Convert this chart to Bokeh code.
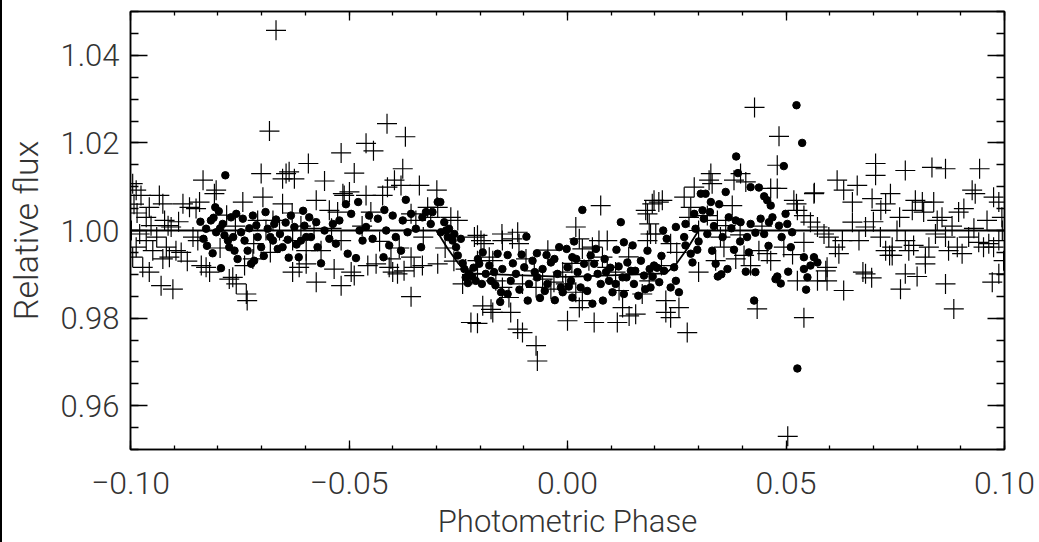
from bokeh.plotting import figure
from bokeh.models import Range1d, LinearAxis, FixedTicker, CustomJSTickFormatter, Div
from bokeh.layouts import row
from bokeh.embed import file_html
from bokeh.resources import INLINE

# ---------------- data ----------------
# crosses: -0.100 .. -0.060
cross_x_a = [-0.0995, -0.0987, -0.0976, -0.0964, -0.0957, -0.0953, -0.0979, -0.0987, -0.0964, -0.0949,
             -0.0995, -0.0972, -0.0957, -0.0934, -0.0926, -0.0922, -0.0914, -0.0907, -0.0896, -0.0884,
             -0.0926, -0.0911, -0.0930, -0.0903, -0.0880, -0.0865, -0.0850, -0.0842, -0.0857, -0.0846,
             -0.0834, -0.0827, -0.0819, -0.0838, -0.0808, -0.0804, -0.0774, -0.0766, -0.0758, -0.0735,
             -0.0739, -0.0743, -0.0701, -0.0697, -0.0709, -0.0652, -0.0637, -0.0625, -0.0652, -0.0629,
             -0.0629, -0.0614, -0.0690, -0.0674, -0.0659, -0.0667, -0.0682, -0.0644, -0.0985, -0.0940,
             -0.0918, -0.0733, -0.0780, -0.0718, -0.0760, -0.0795, -0.0870, -0.0890, -0.0680, -0.0630,
             -0.0610, -0.0720, -0.0998, -0.0992]
cross_y_a = [1.0107, 1.0092, 1.0080, 1.0030, 1.0053, 1.0011, 0.9992, 0.9962, 0.9977, 0.9954,
             0.9939, 0.9916, 0.9905, 1.0080, 1.0061, 1.0023, 1.0011, 1.0008, 0.9954, 0.9950,
             0.9935, 0.9939, 0.9874, 0.9866, 1.0061, 1.0053, 1.0050, 1.0065, 0.9985, 0.9977,
             1.0115, 0.9916, 0.9905, 0.9920, 1.0084, 1.0092, 0.9889, 0.9893, 0.9878, 0.9855,
             0.9920, 1.0065, 1.0130, 1.0076, 1.0023, 1.0118, 1.0134, 1.0118, 1.0061, 0.9977,
             0.9905, 0.9916, 1.0000, 1.0023, 1.0000, 1.0457, 1.0227, 1.0130, 1.0040, 0.9985,
             0.9962, 0.9840, 1.0035, 0.9970, 1.0010, 0.9960, 0.9930, 1.0020, 0.9950, 1.0040,
             1.0010, 0.9935, 1.0000, 1.0060]
# crosses: -0.060 .. -0.030
cross_x_b = [-0.0575, -0.0518, -0.0358, -0.0593, -0.0518, -0.0461, -0.0488, -0.0556, -0.0377, -0.0339,
             -0.0299, -0.0423, -0.0514, -0.0413, -0.0371, -0.0444, -0.0534, -0.0495, -0.0488, -0.0457,
             -0.0438, -0.0408, -0.0400, -0.0389, -0.0374, -0.0351, -0.0332, -0.0297, -0.0404, -0.0358,
             -0.0518, -0.0564, -0.0598, -0.0598, -0.0575, -0.0545, -0.0526, -0.0511, -0.0499, -0.0461,
             -0.0450, -0.0412, -0.0396, -0.0381, -0.0358, -0.0347, -0.0320, -0.0313, -0.0297, -0.0470,
             -0.0540, -0.0430, -0.0385, -0.0330, -0.0580]
cross_y_b = [0.9882, 0.9874, 0.9849, 1.0153, 1.0177, 1.0199, 1.0131, 1.0113, 1.0141, 1.0103,
             1.0092, 1.0080, 1.0084, 1.0244, 1.0214, 1.0182, 0.9912, 0.9905, 0.9897, 0.9920,
             0.9924, 0.9916, 0.9905, 0.9901, 0.9908, 0.9916, 0.9920, 0.9924, 0.9935, 0.9939,
             0.9977, 0.9954, 0.9954, 0.9924, 1.0069, 1.0046, 1.0042, 1.0080, 1.0088, 1.0080,
             1.0042, 1.0099, 1.0115, 1.0103, 1.0038, 1.0023, 1.0053, 1.0030, 1.0053, 1.0010,
             1.0005, 0.9975, 0.9960, 0.9985, 1.0005]
# crosses: -0.030 .. 0.020 (transit)
cross_x_c = [-0.0267, -0.0251, -0.0213, -0.0206, -0.0206, -0.0233, -0.0240, -0.0221, -0.0206, -0.0198,
             -0.0191, -0.0179, -0.0171, -0.0150, -0.0149, -0.0126, -0.0114, -0.0111, -0.0164, -0.0149,
             -0.0134, -0.0194, -0.0171, -0.0114, -0.0103, -0.0072, -0.0069, -0.0076, -0.0057, -0.0031,
             -0.0011, -0.0004, 0.0019, 0.0027, 0.0034, 0.0049, 0.0057, 0.0072, 0.0080, 0.0091,
             0.0091, 0.0110, 0.0118, 0.0126, 0.0141, 0.0156, 0.0171, 0.0187, 0.0183, 0.0187,
             0.0179, 0.0194, 0.0190, 0.0076, 0.0061, 0.0000, 0.0114, 0.0034, 0.0019, 0.0027,
             -0.0038, -0.0072, -0.0103, -0.0206, -0.0175, -0.0130, -0.0095, -0.0045, 0.0010, 0.0140,
             -0.0280, -0.0260]
cross_y_c = [1.0030, 1.0023, 0.9985, 0.9931, 0.9901, 0.9912, 0.9878, 0.9790, 0.9989, 0.9977,
             0.9970, 0.9939, 0.9931, 0.9992, 0.9977, 0.9981, 0.9996, 0.9970, 0.9885, 0.9870,
             0.9847, 0.9828, 0.9813, 0.9775, 0.9767, 0.9737, 0.9702, 0.9908, 0.9889, 0.9882,
             0.9905, 0.9878, 1.0008, 0.9981, 0.9958, 0.9931, 0.9962, 0.9977, 0.9939, 0.9977,
             0.9916, 0.9905, 0.9863, 0.9824, 0.9805, 0.9809, 0.9855, 0.9885, 0.9977, 1.0015,
             1.0046, 1.0061, 0.9992, 1.0057, 0.9790, 0.9794, 0.9790, 0.9840, 0.9859, 0.9824,
             0.9866, 0.9870, 0.9878, 0.9788, 0.9820, 0.9813, 0.9935, 0.9955, 0.9925, 0.9940,
             0.9960, 0.9930]
# crosses: 0.020 .. 0.060
cross_x_d = [0.0428, 0.0484, 0.0480, 0.0328, 0.0324, 0.0331, 0.0396, 0.0381, 0.0408, 0.0465,
             0.0480, 0.0290, 0.0267, 0.0217, 0.0198, 0.0282, 0.0278, 0.0320, 0.0343, 0.0362,
             0.0377, 0.0350, 0.0358, 0.0339, 0.0385, 0.0404, 0.0419, 0.0438, 0.0457, 0.0465,
             0.0495, 0.0518, 0.0526, 0.0541, 0.0564, 0.0556, 0.0572, 0.0587, 0.0541, 0.0572,
             0.0526, 0.0591, 0.0225, 0.0236, 0.0274, 0.0255, 0.0541, 0.0434, 0.0504, 0.0565,
             0.0524, 0.0183, 0.0209, 0.0250, 0.0300, 0.0202, 0.0236, 0.0225, 0.0215, 0.0300,
             0.0445, 0.0395, 0.0515]
cross_y_d = [1.0281, 1.0215, 1.0149, 1.0130, 1.0115, 1.0107, 1.0130, 1.0115, 1.0111, 1.0096,
             1.0096, 1.0099, 1.0076, 1.0069, 1.0069, 1.0053, 1.0030, 1.0034, 1.0023, 1.0011,
             1.0057, 0.9985, 0.9962, 0.9931, 0.9935, 0.9943, 0.9920, 0.9954, 0.9947, 0.9931,
             0.9962, 1.0069, 1.0046, 1.0034, 1.0084, 1.0019, 1.0008, 0.9992, 0.9973, 0.9885,
             0.9885, 0.9908, 0.9840, 0.9801, 0.9767, 0.9824, 0.9801, 0.9821, 0.9530, 1.0086,
             1.0061, 1.0038, 1.0065, 0.9950, 0.9905, 0.9992, 0.9970, 0.9813, 0.9920, 1.0000,
             1.0010, 0.9990, 0.9945]
# crosses: 0.060 .. 0.100
cross_x_e = [0.0705, 0.0705, 0.0773, 0.0834, 0.0865, 0.0943, 0.0617, 0.0663, 0.0632, 0.0652,
             0.0697, 0.0739, 0.0728, 0.0717, 0.0796, 0.0812, 0.0789, 0.0815, 0.0838, 0.0857,
             0.0846, 0.0895, 0.0907, 0.0926, 0.0933, 0.0960, 0.0975, 0.0987, 0.0994, 0.0598,
             0.0613, 0.0629, 0.0652, 0.0667, 0.0682, 0.0716, 0.0728, 0.0743, 0.0754, 0.0773,
             0.0781, 0.0792, 0.0819, 0.0827, 0.0842, 0.0865, 0.0872, 0.0892, 0.0903, 0.0918,
             0.0941, 0.0952, 0.0964, 0.0975, 0.0987, 0.0998, 0.0987, 0.0972, 0.0773, 0.0800,
             0.0819, 0.0682, 0.0696, 0.0632, 0.0762, 0.0884, 0.0865, 0.0594, 0.0594, 0.0621,
             0.0743, 0.0676, 0.0737, 0.0930, 0.0700, 0.0760, 0.0880, 0.0995]
cross_y_e = [1.0153, 1.0126, 1.0137, 1.0144, 1.0141, 1.0141, 1.0115, 1.0103, 1.0092, 1.0065,
             1.0073, 1.0084, 1.0061, 1.0046, 1.0069, 1.0065, 1.0046, 1.0042, 1.0065, 1.0030,
             1.0023, 1.0042, 1.0050, 1.0092, 1.0084, 1.0023, 1.0076, 1.0065, 1.0030, 0.9985,
             0.9962, 0.9977, 1.0019, 0.9977, 1.0008, 0.9985, 0.9954, 0.9943, 1.0000, 0.9977,
             0.9954, 0.9966, 0.9939, 0.9962, 0.9992, 0.9985, 0.9954, 0.9962, 0.9947, 0.9985,
             0.9973, 0.9962, 0.9970, 0.9962, 0.9977, 0.9931, 0.9901, 0.9882, 0.9901, 0.9895,
             0.9924, 0.9901, 0.9892, 0.9863, 0.9866, 0.9821, 0.9878, 0.9916, 0.9885, 0.9947,
             0.9962, 0.9905, 0.9943, 1.0005, 1.0020, 1.0030, 1.0010, 1.0000]

# dots: -0.085 .. -0.060
dot_x_a = [-0.0783, -0.0806, -0.0798, -0.0833, -0.0827, -0.0816, -0.0810, -0.0804, -0.0789, -0.0785,
           -0.0777, -0.0774, -0.0762, -0.0758, -0.0770, -0.0793, -0.0743, -0.0747, -0.0739, -0.0732,
           -0.0720, -0.0717, -0.0724, -0.0709, -0.0701, -0.0691, -0.0686, -0.0674, -0.0671, -0.0663,
           -0.0658, -0.0652, -0.0640, -0.0633, -0.0625, -0.0615, -0.0610, -0.0602, -0.0598, -0.0825,
           -0.0812, -0.0795, -0.0765, -0.0755, -0.0728, -0.0712, -0.0695, -0.0680, -0.0667, -0.0645,
           -0.0638, -0.0620, -0.0605, -0.0840]
dot_y_a = [1.0126, 1.0053, 1.0044, 0.9981, 1.0004, 1.0023, 1.0029, 0.9996, 1.0015, 0.9989,
           0.9977, 0.9962, 0.9954, 1.0038, 1.0030, 0.9914, 1.0027, 0.9996, 0.9977, 0.9954,
           1.0034, 0.9931, 0.9924, 0.9985, 0.9962, 1.0042, 1.0004, 0.9977, 1.0015, 0.9958,
           0.9992, 0.9962, 0.9979, 1.0034, 1.0008, 0.9939, 0.9977, 1.0011, 0.9985, 0.9965,
           0.9948, 1.0005, 0.9985, 0.9935, 1.0005, 1.0012, 0.9942, 0.9985, 1.0025, 1.0018,
           0.9938, 0.9968, 1.0045, 1.0020]
# dots: -0.060 .. -0.022 (with ingress)
dot_x_b = [-0.0591, -0.0587, -0.0575, -0.0572, -0.0564, -0.0556, -0.0545, -0.0537, -0.0530, -0.0522,
           -0.0507, -0.0503, -0.0495, -0.0484, -0.0479, -0.0476, -0.0469, -0.0461, -0.0454, -0.0446,
           -0.0434, -0.0421, -0.0419, -0.0415, -0.0408, -0.0400, -0.0393, -0.0381, -0.0377, -0.0370,
           -0.0366, -0.0358, -0.0347, -0.0335, -0.0332, -0.0324, -0.0313, -0.0309, -0.0297, -0.0291,
           -0.0282, -0.0290, -0.0274, -0.0263, -0.0255, -0.0244, -0.0251, -0.0236, -0.0233, -0.0225,
           -0.0271, -0.0259, -0.0278, -0.0240, -0.0228, -0.0218]
dot_y_b = [1.0030, 0.9985, 1.0019, 0.9962, 0.9925, 1.0000, 0.9981, 1.0015, 0.9970, 1.0023,
           1.0060, 0.9947, 1.0038, 0.9937, 1.0065, 1.0000, 0.9977, 1.0008, 1.0034, 0.9981,
           1.0027, 0.9939, 1.0047, 1.0000, 0.9966, 1.0034, 0.9985, 0.9954, 1.0023, 1.0070,
           0.9996, 1.0038, 1.0004, 0.9962, 1.0030, 1.0042, 1.0015, 1.0042, 1.0065, 1.0065,
           1.0019, 0.9996, 0.9985, 0.9977, 0.9962, 0.9981, 0.9943, 0.9912, 0.9893, 0.9901,
           1.0004, 0.9992, 1.0000, 0.9925, 0.9880, 0.9895]
# dots: -0.022 .. 0.020 (transit floor)
dot_x_c = [-0.0202, -0.0194, -0.0196, -0.0187, -0.0179, -0.0175, -0.0168, -0.0160, -0.0154, -0.0152,
           -0.0149, -0.0137, -0.0137, -0.0130, -0.0118, -0.0099, -0.0094, -0.0091, -0.0088, -0.0080,
           -0.0070, -0.0069, -0.0063, -0.0057, -0.0048, -0.0046, -0.0038, -0.0029, -0.0023, -0.0019,
           -0.0015, -0.0011, -0.0002, 0.0000, 0.0008, 0.0011, 0.0011, 0.0015, 0.0023, 0.0030,
           0.0034, 0.0038, 0.0046, 0.0057, 0.0053, 0.0061, 0.0069, 0.0076, 0.0081, 0.0088,
           0.0095, 0.0103, 0.0112, 0.0117, 0.0122, 0.0126, 0.0129, 0.0129, 0.0137, 0.0145,
           0.0149, 0.0152, 0.0162, 0.0168, 0.0175, 0.0183, 0.0190, 0.0198, -0.0215, -0.0210,
           -0.0205, -0.0165, -0.0125, -0.0110, -0.0105, -0.0075, -0.0052, -0.0030, 0.0003, 0.0020,
           0.0045, 0.0065, 0.0085, 0.0098, 0.0110, 0.0135, 0.0155, 0.0178, 0.0188, 0.0195]
dot_y_c = [0.9924, 0.9950, 0.9878, 0.9901, 0.9920, 0.9885, 0.9905, 0.9947, 0.9837, 0.9859,
           0.9912, 0.9944, 0.9855, 0.9885, 0.9901, 0.9916, 0.9986, 0.9840, 0.9878, 0.9931,
           0.9948, 0.9893, 0.9846, 0.9912, 0.9944, 0.9878, 0.9927, 0.9841, 0.9901, 0.9962,
           0.9870, 0.9859, 0.9958, 0.9916, 0.9885, 0.9939, 0.9847, 0.9975, 0.9905, 0.9870,
           1.0047, 0.9924, 0.9893, 0.9833, 0.9943, 0.9924, 0.9901, 0.9878, 0.9840, 0.9905,
           0.9885, 0.9859, 0.9956, 0.9918, 1.0019, 0.9893, 0.9973, 0.9855, 0.9927, 0.9908,
           0.9966, 0.9878, 0.9851, 0.9931, 0.9897, 0.9954, 0.9870, 0.9920, 0.9915, 0.9885,
           0.9935, 0.9875, 0.9925, 0.9865, 0.9945, 0.9905, 0.9862, 0.9935, 0.9872, 0.9935,
           0.9862, 0.9958, 0.9935, 0.9915, 0.9878, 0.9893, 0.9908, 0.9866, 0.9912, 0.9895]
# dots: 0.020 .. 0.058 (egress and after)
dot_x_d = [0.0205, 0.0210, 0.0215, 0.0219, 0.0221, 0.0227, 0.0236, 0.0244, 0.0248, 0.0248,
           0.0255, 0.0267, 0.0270, 0.0282, 0.0286, 0.0290, 0.0293, 0.0297, 0.0305, 0.0309,
           0.0312, 0.0316, 0.0320, 0.0328, 0.0326, 0.0331, 0.0339, 0.0344, 0.0347, 0.0352,
           0.0362, 0.0366, 0.0369, 0.0381, 0.0385, 0.0386, 0.0390, 0.0396, 0.0408, 0.0411,
           0.0415, 0.0419, 0.0419, 0.0427, 0.0430, 0.0438, 0.0442, 0.0450, 0.0450, 0.0457,
           0.0461, 0.0465, 0.0469, 0.0476, 0.0480, 0.0484, 0.0488, 0.0495, 0.0499, 0.0503,
           0.0505, 0.0511, 0.0514, 0.0524, 0.0526, 0.0537, 0.0541, 0.0541, 0.0546, 0.0549,
           0.0556, 0.0564, 0.0572, 0.0270, 0.0300, 0.0335, 0.0355, 0.0375, 0.0395, 0.0430,
           0.0460, 0.0490]
dot_y_d = [0.9915, 0.9882, 0.9942, 1.0000, 0.9908, 0.9981, 0.9870, 0.9916, 0.9885, 1.0008,
           0.9859, 0.9985, 0.9966, 0.9947, 0.9927, 1.0038, 1.0004, 0.9956, 1.0084, 1.0046,
           1.0027, 1.0084, 0.9992, 1.0065, 1.0042, 0.9954, 0.9924, 0.9895, 1.0060, 0.9900,
           1.0088, 0.9912, 1.0030, 0.9956, 1.0023, 1.0169, 1.0131, 1.0019, 0.9906, 0.9985,
           0.9950, 1.0015, 1.0099, 0.9840, 0.9905, 1.0098, 1.0027, 0.9992, 1.0078, 1.0069,
           1.0019, 1.0057, 1.0030, 0.9889, 0.9895, 1.0011, 0.9879, 1.0147, 1.0038, 1.0015,
           0.9906, 0.9962, 0.9996, 1.0286, 0.9685, 1.0200, 0.9939, 0.9912, 0.9865, 0.9893,
           0.9920, 0.9939, 0.9927, 1.0015, 0.9975, 1.0010, 0.9985, 1.0005, 0.9975, 0.9995,
           0.9965, 0.9985]

# transit model curve
model_phase = [-0.100, -0.0300, -0.0275, -0.0250, -0.0225, 0.0000, 0.0225, 0.0250, 0.0275, 0.0300, 0.100]
model_flux = [1.0000, 1.0000, 0.9960, 0.9925, 0.9902, 0.9894, 0.9902, 0.9925, 0.9960, 1.0000, 1.0000]

# axes ticks
x_major = [-0.10, -0.05, 0.00, 0.05, 0.10]
x_minor = [-0.10, -0.09, -0.08, -0.07, -0.06, -0.05, -0.04, -0.03, -0.02, -0.01, 0.00,
           0.01, 0.02, 0.03, 0.04, 0.05, 0.06, 0.07, 0.08, 0.09, 0.10]
y_major = [0.96, 0.98, 1.00, 1.02, 1.04]
y_minor = [0.950, 0.955, 0.960, 0.965, 0.970, 0.975, 0.980, 0.985, 0.990, 0.995, 1.000,
           1.005, 1.010, 1.015, 1.020, 1.025, 1.030, 1.035, 1.040, 1.045, 1.050]

x_label = "Photometric Phase"
y_label = "Relative flux"

# ---------------- figure ----------------
FONT = "Roboto Light"
TXT = "#333333"

p = figure(width=1037, height=542, output_backend="svg", toolbar_location=None,
           x_range=Range1d(-0.1, 0.1), y_range=Range1d(0.95, 1.05),
           min_border_left=127, min_border_right=35, min_border_top=11, min_border_bottom=93,
           background_fill_color="white", border_fill_color="white")
p.grid.visible = False
p.outline_line_color = "black"
p.outline_line_width = 1.5

cross_x = cross_x_a + cross_x_b + cross_x_c + cross_x_d + cross_x_e
cross_y = cross_y_a + cross_y_b + cross_y_c + cross_y_d + cross_y_e
dot_x = dot_x_a + dot_x_b + dot_x_c + dot_x_d
dot_y = dot_y_a + dot_y_b + dot_y_c + dot_y_d

p.scatter(cross_x, cross_y, marker="cross", size=20, line_color="black", line_width=1.2)
p.line(model_phase, model_flux, line_color="black", line_width=1.8)
p.scatter(dot_x, dot_y, marker="circle", size=7.5, fill_color="black", line_color="black")

xfmt = CustomJSTickFormatter(code="return (tick < -1e-9 ? '\\u2212' : '') + Math.abs(tick).toFixed(2);")
yfmt = CustomJSTickFormatter(code="return tick.toFixed(2);")
blank = CustomJSTickFormatter(code="return '';")


def style(ax, major_in, minor_in):
    ax.axis_line_color = "black"
    ax.axis_line_width = 1.5
    ax.major_tick_in = major_in
    ax.major_tick_out = 0
    ax.minor_tick_in = minor_in
    ax.minor_tick_out = 0
    ax.major_tick_line_color = "black"
    ax.major_tick_line_width = 1.3
    ax.minor_tick_line_color = "black"
    ax.minor_tick_line_width = 1.3
    ax.major_label_text_font = FONT
    ax.major_label_text_color = TXT
    ax.axis_label_text_font = FONT
    ax.axis_label_text_color = TXT
    ax.axis_label_text_font_style = "normal"


xb = p.xaxis[0]
xb.ticker = FixedTicker(ticks=x_major, minor_ticks=x_minor)
xb.formatter = xfmt
style(xb, 9, 4)
xb.major_label_text_font_size = "32px"
xb.major_label_standoff = 22
xb.axis_label = x_label
xb.axis_label_text_font_size = "31px"
xb.axis_label_standoff = 6

yl = p.yaxis[0]
yl.ticker = FixedTicker(ticks=y_major, minor_ticks=y_minor)
yl.formatter = yfmt
style(yl, 17, 8)
yl.major_label_text_font_size = "31px"
yl.major_label_standoff = 11
yl.axis_label = y_label
yl.axis_label_text_font_size = "34px"
yl.axis_label_standoff = 12

xt = LinearAxis(ticker=FixedTicker(ticks=x_major, minor_ticks=x_minor), formatter=blank)
style(xt, 9, 4)
xt.major_label_text_font_size = "1px"
xt.major_label_standoff = 0
p.add_layout(xt, "above")

yr = LinearAxis(ticker=FixedTicker(ticks=y_major, minor_ticks=y_minor), formatter=blank)
style(yr, 17, 8)
yr.major_label_text_font_size = "1px"
yr.major_label_standoff = 0
p.add_layout(yr, "right")

# thin black edge at the very left of the picture
edge = Div(text="", width=2, height=542, margin=0, styles={"background-color": "black"})

layout = row(edge, p, spacing=0)

open("out.html", "w").write(file_html(layout, INLINE))
